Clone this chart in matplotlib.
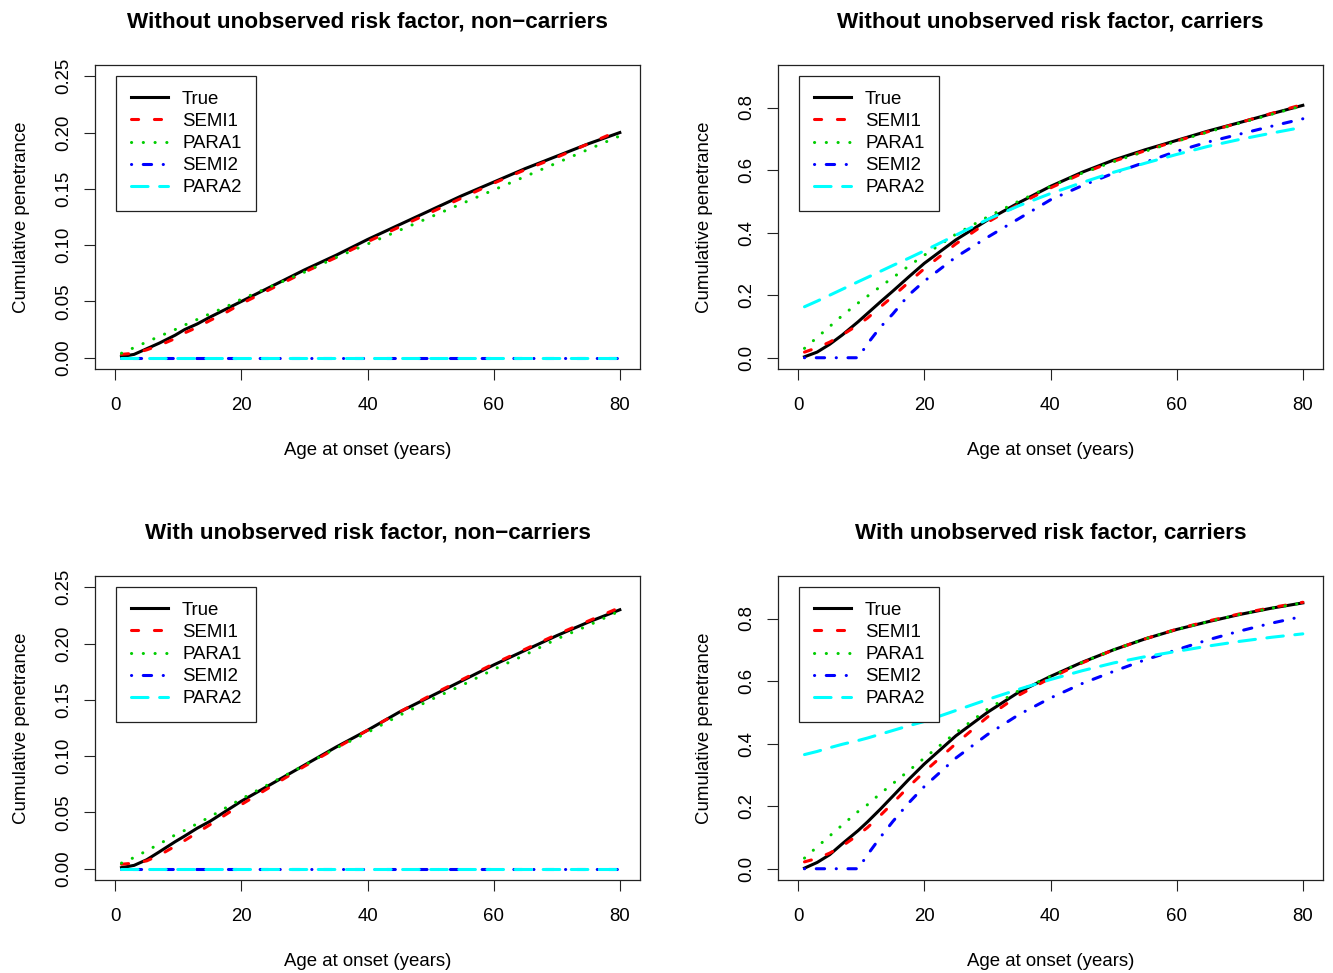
import matplotlib
matplotlib.use("Agg")
import matplotlib.pyplot as plt

plt.rcParams['font.family'] = ['Liberation Sans', 'DejaVu Sans']

# age grid (years)
age = [1, 3, 5, 7, 9.5, 11, 13, 15, 17.5, 20, 25, 30, 35, 40, 45, 50, 55, 60, 65, 70, 75, 80]

# Without unobserved risk factor, non-carriers
true_a = [0.001, 0.003, 0.008, 0.013, 0.020, 0.025, 0.030, 0.036, 0.043, 0.050, 0.064, 0.078, 0.091,
          0.105, 0.118, 0.131, 0.144, 0.156, 0.168, 0.179, 0.190, 0.200]
semi1_a = [0.003, 0.004, 0.007, 0.011, 0.017, 0.022, 0.027, 0.033, 0.040, 0.048, 0.062, 0.076, 0.089,
           0.103, 0.116, 0.129, 0.142, 0.155, 0.167, 0.178, 0.190, 0.202]
para1_a = [0.004, 0.009, 0.014, 0.019, 0.025, 0.029, 0.034, 0.039, 0.045, 0.052, 0.064, 0.076, 0.089,
           0.101, 0.113, 0.125, 0.137, 0.149, 0.161, 0.173, 0.185, 0.197]
semi2_a = [0.0] * 22
para2_a = [0.0] * 22

# Without unobserved risk factor, carriers
true_b = [0.003, 0.018, 0.043, 0.073, 0.115, 0.142, 0.178, 0.213, 0.258, 0.302, 0.377, 0.440, 0.496,
          0.548, 0.593, 0.632, 0.665, 0.695, 0.725, 0.752, 0.780, 0.807]
semi1_b = [0.018, 0.032, 0.050, 0.073, 0.105, 0.127, 0.162, 0.196, 0.241, 0.285, 0.364, 0.433, 0.491,
           0.543, 0.589, 0.628, 0.662, 0.693, 0.723, 0.752, 0.781, 0.810]
para1_b = [0.030, 0.065, 0.100, 0.135, 0.175, 0.197, 0.227, 0.256, 0.293, 0.328, 0.395, 0.450, 0.501,
           0.548, 0.590, 0.627, 0.660, 0.692, 0.722, 0.750, 0.778, 0.806]
semi2_b = [0.0, 0.0, 0.0, 0.0, 0.0, 0.045, 0.097, 0.140, 0.200, 0.245, 0.322, 0.385, 0.445,
           0.505, 0.550, 0.590, 0.625, 0.660, 0.690, 0.715, 0.740, 0.764]
para2_b = [0.163, 0.181, 0.200, 0.219, 0.243, 0.257, 0.276, 0.295, 0.318, 0.342, 0.392, 0.442, 0.486,
           0.525, 0.560, 0.593, 0.622, 0.650, 0.676, 0.698, 0.718, 0.737]

# With unobserved risk factor, non-carriers
true_c = [0.001, 0.003, 0.008, 0.015, 0.024, 0.029, 0.036, 0.042, 0.051, 0.060, 0.076, 0.092, 0.108,
          0.123, 0.139, 0.153, 0.167, 0.181, 0.194, 0.207, 0.219, 0.230]
semi1_c = [0.004, 0.005, 0.007, 0.012, 0.020, 0.025, 0.032, 0.039, 0.048, 0.057, 0.074, 0.091, 0.107,
           0.123, 0.139, 0.154, 0.168, 0.182, 0.195, 0.208, 0.220, 0.232]
para1_c = [0.005, 0.010, 0.016, 0.022, 0.030, 0.034, 0.040, 0.046, 0.054, 0.062, 0.077, 0.092, 0.107,
           0.121, 0.136, 0.150, 0.163, 0.177, 0.190, 0.204, 0.216, 0.229]
semi2_c = [0.0] * 22
para2_c = [0.0] * 22

# With unobserved risk factor, carriers
true_d = [0.002, 0.020, 0.045, 0.080, 0.122, 0.150, 0.190, 0.232, 0.285, 0.335, 0.425, 0.500, 0.565,
          0.615, 0.660, 0.700, 0.735, 0.765, 0.790, 0.813, 0.833, 0.850]
semi1_d = [0.022, 0.033, 0.050, 0.073, 0.108, 0.132, 0.170, 0.210, 0.262, 0.310, 0.400, 0.485, 0.555,
           0.610, 0.658, 0.700, 0.735, 0.766, 0.792, 0.815, 0.835, 0.852]
para1_d = [0.034, 0.070, 0.105, 0.140, 0.183, 0.205, 0.240, 0.272, 0.313, 0.354, 0.435, 0.510, 0.570,
           0.615, 0.660, 0.700, 0.735, 0.765, 0.790, 0.813, 0.833, 0.850]
semi2_d = [0.0, 0.0, 0.0, 0.0, 0.0, 0.045, 0.100, 0.151, 0.210, 0.263, 0.354, 0.429, 0.493,
           0.546, 0.592, 0.631, 0.668, 0.700, 0.732, 0.760, 0.785, 0.807]
para2_d = [0.365, 0.375, 0.387, 0.398, 0.410, 0.418, 0.430, 0.442, 0.457, 0.471, 0.506, 0.541, 0.574,
           0.605, 0.633, 0.658, 0.678, 0.695, 0.712, 0.727, 0.740, 0.751]

titles = ["Without unobserved risk factor, non\u2212carriers",
          "Without unobserved risk factor, carriers",
          "With unobserved risk factor, non\u2212carriers",
          "With unobserved risk factor, carriers"]
labels = ["True", "SEMI1", "PARA1", "SEMI2", "PARA2"]
panels = [[true_a, semi1_a, para1_a, semi2_a, para2_a],
          [true_b, semi1_b, para1_b, semi2_b, para2_b],
          [true_c, semi1_c, para1_c, semi2_c, para2_c],
          [true_d, semi1_d, para1_d, semi2_d, para2_d]]

colors = ["black", "#FF0000", "#00CD00", "#0000FF", "#00FFFF"]
dashes = [None, (2.33, 5.17), (0.05, 3.8), (0.05, 3.8, 2.73, 3.8), (5.43, 3.77)]

W, H = 1333, 973
fig = plt.figure(figsize=(W / 100, H / 100), dpi=100)

# axes boxes in pixels: left, top, right, bottom
boxes = [(95, 65, 640, 369), (778, 65, 1323, 369),
         (95, 576, 640, 880), (778, 576, 1323, 880)]
ylims = [(0, 0.25), (0, 0.9), (0, 0.25), (0, 0.9)]
yticks = [[0, 0.05, 0.10, 0.15, 0.20, 0.25], [0, 0.2, 0.4, 0.6, 0.8],
          [0, 0.05, 0.10, 0.15, 0.20, 0.25], [0, 0.2, 0.4, 0.6, 0.8]]
yfmt = ["%.2f", "%.1f", "%.2f", "%.1f"]

fs = 13.4
for i in range(4):
    l, t, r, b = boxes[i]
    ax = fig.add_axes([l / W, 1 - b / H, (r - l) / W, (b - t) / H])
    for j in range(5):
        line, = ax.plot(age, panels[i][j], color=colors[j], lw=2.2, label=labels[j])
        if dashes[j] is not None:
            line.set_dashes(dashes[j])
            line.set_dash_capstyle('round')
    ax.set_xlim(-3.2, 83.2)
    y0, y1 = ylims[i]
    ext = 0.04 * (y1 - y0)
    ax.set_ylim(y0 - ext, y1 + ext)
    ax.set_xticks([0, 20, 40, 60, 80])
    ax.set_yticks(yticks[i])
    ax.set_yticklabels([yfmt[i] % v for v in yticks[i]], rotation=90, va='center')
    ax.tick_params(direction='out', length=7.9, width=0.8, labelsize=fs, colors='#222222')
    ax.tick_params(axis='x', pad=12.5)
    ax.tick_params(axis='y', pad=8.5)
    ax.tick_params(labelcolor='black')
    for sp in ax.spines.values():
        sp.set_linewidth(0.9)
        sp.set_color('#222222')
    ax.set_title(titles[i], fontsize=16.2, fontweight='bold', pad=27)
    ax.set_xlabel("Age at onset (years)", fontsize=fs, labelpad=20)
    ax.set_ylabel("Cumulative penetrance", fontsize=fs, labelpad=18)
    leg = ax.legend(loc='upper left', bbox_to_anchor=(21 / 545, 1 - 11 / 304), borderaxespad=0,
                    fontsize=fs, handlelength=2.0, handletextpad=0.75, borderpad=0.8,
                    labelspacing=0.27, fancybox=False, framealpha=1, edgecolor='#222222')
    leg.get_frame().set_linewidth(0.9)

fig.savefig("out.png", dpi=100)
